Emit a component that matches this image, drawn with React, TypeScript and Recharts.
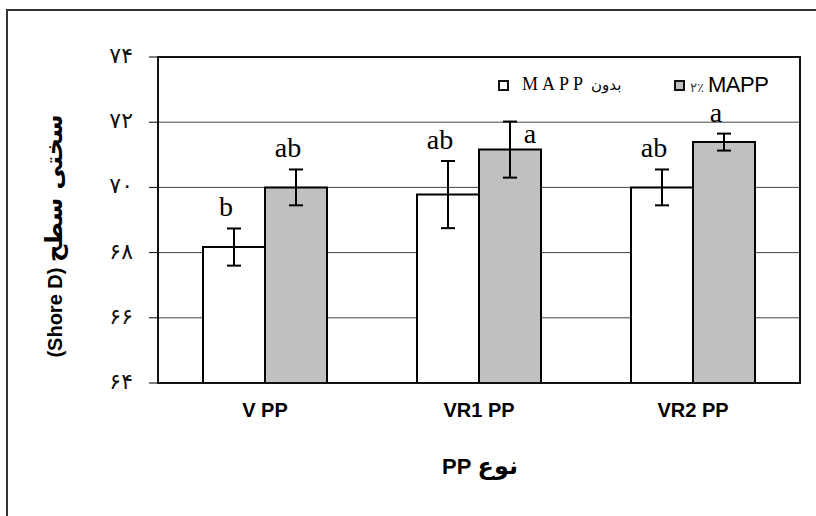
import React from "react";
import { BarChart, Bar, XAxis, YAxis, CartesianGrid, ErrorBar, Legend, LabelList } from "recharts";

// surface hardness (Shore D) per PP type
const categories = ["V PP", "VR1 PP", "VR2 PP"];
const withoutMapp = [68.17, 69.78, 70.0];
const withoutMappErr = [0.57, 1.03, 0.55];
const withMapp = [70.0, 71.16, 71.39];
const withMappErr = [0.55, 0.86, 0.26];
const withoutMappLetters = ["b", "ab", "ab"];
const withMappLetters = ["ab", "a", "a"];
const yTicks = [64, 66, 68, 70, 72, 74];

const data = categories.map((name, i) => ({
  name,
  without: withoutMapp[i],
  withoutErr: withoutMappErr[i],
  withMapp: withMapp[i],
  withErr: withMappErr[i],
}));

const Y_MIN = 64;
const toPersian = (n: number | string) =>
  String(n).replace(/\d/g, (d) => "۰۱۲۳۴۵۶۷۸۹"[Number(d)]);

function letterLabel(values: number[], errs: number[], letters: string[], besideIndex = -1) {
  return (props: any) => {
    const x = Number(props.x);
    const y = Number(props.y);
    const width = Number(props.width);
    const height = Number(props.height);
    const i = props.index;
    const perUnit = height / (values[i] - Y_MIN);
    let lx = x + width / 2 - 8;
    let ly = y - errs[i] * perUnit - 12;
    if (i === besideIndex) {
      // this letter sits beside the error bar instead of above it
      lx = x + width / 2 + 20;
      ly = y - 7;
    }
    return (
      <text x={lx} y={ly} textAnchor="middle" fontFamily="'Liberation Serif', serif" fontSize={28} fill="#000">
        {letters[i]}
      </text>
    );
  };
}

function XTick(props: any) {
  const { x, y, payload } = props;
  return (
    <text x={x} y={y + 26} textAnchor="middle" fontFamily="'Liberation Sans', Arial" fontWeight="bold" fontSize={20} fill="#000">
      {payload.value}
    </text>
  );
}

function YTick(props: any) {
  const { x, y, payload } = props;
  return (
    <text x={x - 14} y={y + 6} textAnchor="end" fontFamily="'DejaVu Sans', sans-serif" fontSize={22} fill="#111">
      {toPersian(payload.value)}
    </text>
  );
}

function renderLegend() {
  const box = (fill: string): React.CSSProperties => ({
    position: "absolute",
    top: 7,
    width: 11,
    height: 11,
    boxSizing: "border-box",
    border: "2px solid #111",
    background: fill,
  });
  return (
    <div style={{ position: "relative", width: 300, height: 24, lineHeight: "normal" }}>
      <span style={{ ...box("#fff"), left: 4 }} />
      <span dir="rtl" style={{ position: "absolute", left: 28, top: 1, whiteSpace: "nowrap", color: "#000" }}>
        <span style={{ fontFamily: "'DejaVu Sans', sans-serif", fontSize: 15 }}>بدون</span>{" "}
        <span style={{ fontFamily: "'Liberation Serif', serif", fontSize: 18, letterSpacing: 4 }}>MAPP</span>
      </span>
      <span style={{ ...box("#c0c0c0"), left: 180 }} />
      <span style={{ position: "absolute", left: 196, top: -1, whiteSpace: "nowrap", color: "#000" }}>
        <span style={{ fontFamily: "'DejaVu Sans', sans-serif", fontSize: 13, color: "#333" }}>۲٪</span>{" "}
        <span style={{ fontFamily: "'Liberation Sans', Arial", fontSize: 22, letterSpacing: -0.5 }}>MAPP</span>
      </span>
    </div>
  );
}

export default function App() {
  return (
    <div
      style={{
        position: "fixed",
        left: 0,
        top: 0,
        width: 816,
        height: 516,
        overflow: "hidden",
        background: "#fff",
      }}
    >
      <div
        style={{
          position: "absolute",
          left: 6,
          top: 9,
          width: 900,
          height: 600,
          border: "2px solid #333",
        }}
      />
      <div style={{ position: "absolute", left: 0, top: 0 }}>
        <BarChart
          width={816}
          height={516}
          data={data}
          margin={{ top: 57, right: 16, bottom: 0, left: 0 }}
          barSize={62}
          barGap={0}
        >
          <CartesianGrid vertical={false} stroke="#444" strokeWidth={1} />
          <XAxis
            dataKey="name"
            height={133}
            tickLine={false}
            axisLine={{ stroke: "#000", strokeWidth: 2 }}
            tick={<XTick />}
            interval={0}
            label={{
              content: () => (
                <text x={480} y={474} textAnchor="middle" style={{ direction: "rtl" }} fill="#000" fontWeight="bold">
                  <tspan fontFamily="'DejaVu Sans', sans-serif" fontSize={24}>نوع</tspan>
                  <tspan fontFamily="'Liberation Sans', Arial" fontSize={22}> PP</tspan>
                </text>
              ),
            }}
          />
          <YAxis
            width={158}
            domain={[64, 74]}
            ticks={yTicks}
            interval={0}
            tickSize={9}
            tickLine={{ stroke: "#000", strokeWidth: 1 }}
            axisLine={{ stroke: "#000", strokeWidth: 2 }}
            tick={<YTick />}
            label={{
              content: () => (
                <text x={62} y={236} transform="rotate(-90 62 236)" textAnchor="middle" fill="#000" fontWeight="bold">
                  <tspan fontFamily="'Liberation Sans', Arial" fontSize={20}>(Shore D) </tspan>
                  <tspan fontFamily="'DejaVu Sans', sans-serif" fontSize={24}>سختی سطح</tspan>
                </text>
              ),
            }}
          />
          <Legend
            content={renderLegend}
            layout="horizontal"
            verticalAlign="middle"
            wrapperStyle={{ position: "absolute", left: 494, top: 73, width: 300, height: 24 }}
          />
          <Bar dataKey="without" name="بدون MAPP" fill="#fff" stroke="#000" strokeWidth={2} isAnimationActive={false}>
            <ErrorBar dataKey="withoutErr" width={7} stroke="#000" strokeWidth={2} />
            <LabelList dataKey="without" content={letterLabel(withoutMapp, withoutMappErr, withoutMappLetters)} />
          </Bar>
          <Bar dataKey="withMapp" name="۲٪ MAPP" fill="#c0c0c0" stroke="#000" strokeWidth={2} isAnimationActive={false}>
            <ErrorBar dataKey="withErr" width={7} stroke="#000" strokeWidth={2} />
            <LabelList dataKey="withMapp" content={letterLabel(withMapp, withMappErr, withMappLetters, 1)} />
          </Bar>
        </BarChart>
      </div>
      <div
        style={{
          position: "absolute",
          left: 157,
          top: 56,
          width: 644,
          height: 328,
          boxSizing: "border-box",
          border: "2px solid #111",
          pointerEvents: "none",
        }}
      />
    </div>
  );
}
